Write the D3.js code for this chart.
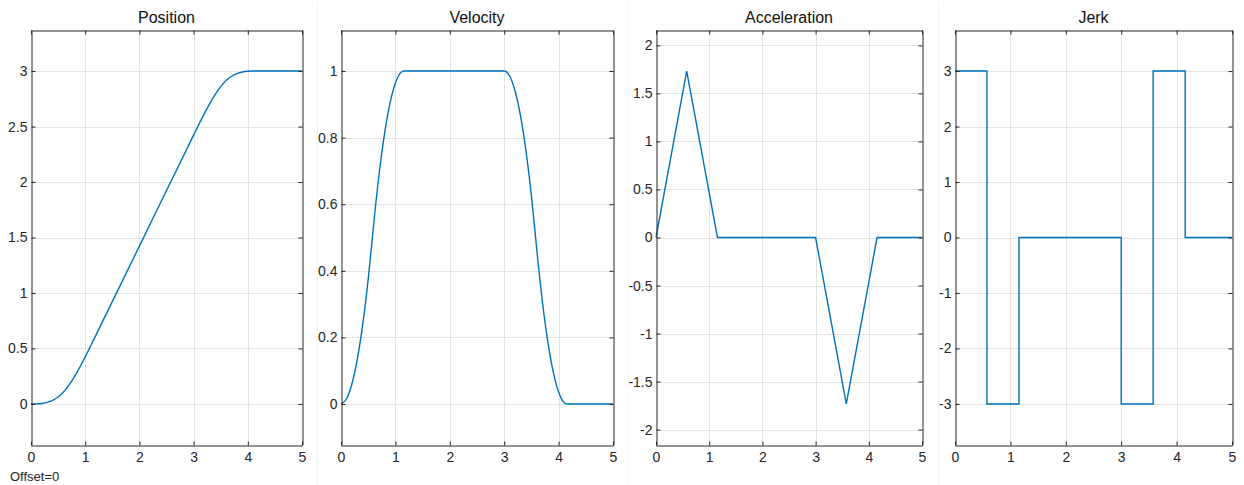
<!DOCTYPE html>
<html>
<head>
<meta charset="utf-8">
<script src="https://cdn.jsdelivr.net/npm/d3@7"></script>
<style>
  body { margin: 0; background: #fff; }
  svg { display: block; font-family: "Liberation Sans", Arial, sans-serif; }
</style>
</head>
<body>
<svg id="chart" width="1244" height="485"></svg>
<script>
// sampled profiles (time in s)
const tSmooth = [0, 0.1, 0.2, 0.3, 0.4, 0.5, 0.577, 0.6, 0.7, 0.8, 0.9, 1.0, 1.1, 1.155,
  2.0, 3.0, 3.1, 3.2, 3.3, 3.4, 3.5, 3.577, 3.6, 3.7, 3.8, 3.9, 4.0, 4.1, 4.155, 5];
const position = [0, 0.0005, 0.004, 0.0135, 0.032, 0.0625, 0.0962, 0.108, 0.1696, 0.2449, 0.3308, 0.4244, 0.5227, 0.5774,
  1.4226, 2.4226, 2.5221, 2.6186, 2.7091, 2.7906, 2.8601, 2.9038, 2.9147, 2.953, 2.9777, 2.9918, 2.9982, 2.9999, 3, 3];
const velocity = [0, 0.015, 0.06, 0.135, 0.24, 0.375, 0.5, 0.5384, 0.6898, 0.8112, 0.9027, 0.9641, 0.9955, 1,
  1, 1, 0.985, 0.94, 0.865, 0.76, 0.625, 0.5, 0.4616, 0.3102, 0.1888, 0.0973, 0.0359, 0.0045, 0, 0];

const tBreaks = [0, 0.577, 1.155, 3.0, 3.577, 4.155, 5];
const acceleration = [0, 1.732, 0, 0, -1.732, 0, 0];
const jerk = [3, -3, 0, -3, 3, 0, 0];

const xTicks = [0, 1, 2, 3, 4, 5];
const posTicks = [0, 0.5, 1, 1.5, 2, 2.5, 3];
const velTicks = [0, 0.2, 0.4, 0.6, 0.8, 1];
const accTicks = [-2, -1.5, -1, -0.5, 0, 0.5, 1, 1.5, 2];
const jerkTicks = [-3, -2, -1, 0, 1, 2, 3];

const panels = [
  { title: "Position", x0: 31, x1: 302, t: tSmooth, v: position, yDom: [-0.37, 3.37], yTicks: posTicks, curve: d3.curveMonotoneX },
  { title: "Velocity", x0: 341, x1: 613, t: tSmooth, v: velocity, yDom: [-0.123, 1.123], yTicks: velTicks, curve: d3.curveMonotoneX },
  { title: "Acceleration", x0: 656, x1: 922, t: tBreaks, v: acceleration, yDom: [-2.16, 2.16], yTicks: accTicks, curve: d3.curveLinear },
  { title: "Jerk", x0: 955, x1: 1232, t: tBreaks, v: jerk, yDom: [-3.74, 3.74], yTicks: jerkTicks, curve: d3.curveStepAfter }
];

const plotTop = 30, plotBottom = 445;
const svg = d3.select("#chart");
const fmt = d => String(d);
const axisColor = "#262626";

// faint figure tile separators
[317, 628, 938].forEach(x => {
  svg.append("line").attr("x1", x + 0.5).attr("x2", x + 0.5).attr("y1", 3).attr("y2", 485)
    .attr("stroke", "#f4f4f4");
});

panels.forEach(p => {
  const x = d3.scaleLinear().domain([0, 5]).range([p.x0, p.x1]);
  const y = d3.scaleLinear().domain(p.yDom).range([plotBottom, plotTop]);
  const g = svg.append("g");

  // grid
  g.append("g").selectAll("line").data(xTicks.slice(1, -1)).join("line")
    .attr("x1", d => Math.round(x(d)) + 0.5).attr("x2", d => Math.round(x(d)) + 0.5)
    .attr("y1", plotTop).attr("y2", plotBottom)
    .attr("stroke", "#e3e3e3");
  g.append("g").selectAll("line").data(p.yTicks).join("line")
    .attr("x1", p.x0).attr("x2", p.x1)
    .attr("y1", d => Math.round(y(d)) + 0.5).attr("y2", d => Math.round(y(d)) + 0.5)
    .attr("stroke", "#e3e3e3");

  // data line
  const line = d3.line().x((d, i) => x(p.t[i])).y(d => y(d)).curve(p.curve);
  g.append("path").datum(p.v)
    .attr("d", line)
    .attr("fill", "none")
    .attr("stroke", "#0072BD")
    .attr("stroke-width", 1.4);

  // axes (inward ticks, box)
  const bottomAx = g.append("g").attr("transform", `translate(0,${plotBottom + 0.5})`)
    .call(d3.axisBottom(x).tickValues(xTicks).tickFormat(fmt).tickSizeInner(-4).tickSizeOuter(0).tickPadding(7));
  const topAx = g.append("g").attr("transform", `translate(0,${plotTop + 0.5})`)
    .call(d3.axisTop(x).tickValues(xTicks).tickFormat("").tickSizeInner(-4).tickSizeOuter(0));
  const leftAx = g.append("g").attr("transform", `translate(${p.x0 + 0.5},0)`)
    .call(d3.axisLeft(y).tickValues(p.yTicks).tickFormat(fmt).tickSizeInner(-4).tickSizeOuter(0).tickPadding(4));
  const rightAx = g.append("g").attr("transform", `translate(${p.x1 + 0.5},0)`)
    .call(d3.axisRight(y).tickValues(p.yTicks).tickFormat("").tickSizeInner(-4).tickSizeOuter(0));

  [bottomAx, topAx, leftAx, rightAx].forEach(a => {
    a.select(".domain").attr("stroke", axisColor);
    a.selectAll(".tick line").attr("stroke", axisColor);
    a.selectAll("text").attr("fill", "#262626").attr("font-size", 14)
      .attr("font-family", "'Liberation Sans', Arial, sans-serif");
  });

  g.append("text")
    .attr("x", (p.x0 + p.x1) / 2).attr("y", 23)
    .attr("text-anchor", "middle")
    .attr("font-size", 16)
    .attr("fill", "#111")
    .text(p.title);
});

svg.append("text").attr("x", 10).attr("y", 481)
  .attr("font-size", 13).attr("fill", "#262626")
  .text("Offset=0");
</script>
</body>
</html>
